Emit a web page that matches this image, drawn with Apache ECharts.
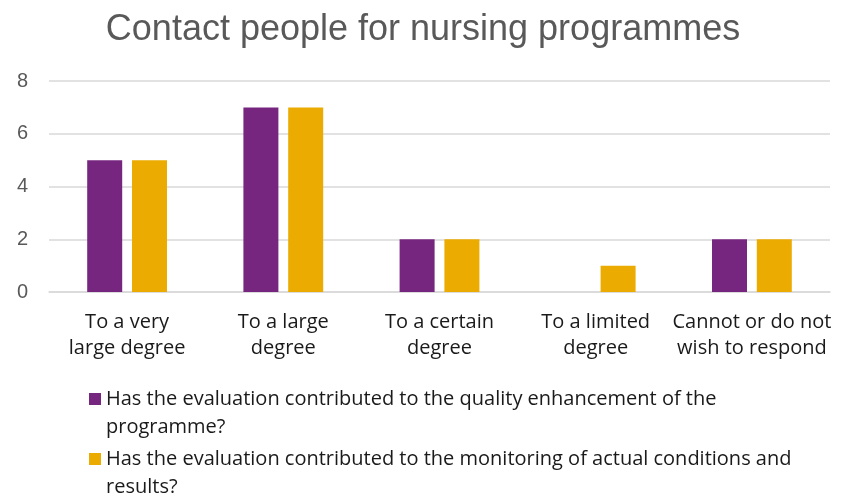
<!DOCTYPE html>
<html>
<head>
<meta charset="utf-8">
<script src="https://cdn.jsdelivr.net/npm/echarts@6/dist/echarts.min.js"></script>
<style>
  html, body { margin: 0; padding: 0; background: #fff; }
  #main { width: 846px; height: 498px; }
</style>
</head>
<body>
<div id="main"></div>
<script>
'use strict';

const title = 'Contact people for nursing programmes';
const categories = ['To a very\nlarge degree', 'To a large\ndegree', 'To a certain\ndegree', 'To a limited\ndegree', 'Cannot or do not\nwish to respond'];
const quality = [5, 7, 2, 0, 2];
const monitoring = [5, 7, 2, 1, 2];
const seriesNames = [
  'Has the evaluation contributed to the quality enhancement of the programme?',
  'Has the evaluation contributed to the monitoring of actual conditions and results?'
];
const yTicks = [0, 2, 4, 6, 8];

const bodyFont = '"Open Sans", Lato, sans-serif';

// square sitting at the top of a taller box, so it lines up with the first text line
const topSquare = 'path://M0,0L12,0L12,12L0,12Z M0,40L0.01,40';

// break each legend entry before its last word, like the original
function wrapLast(name) {
  const i = name.lastIndexOf(' ');
  return name.slice(0, i) + '\n' + name.slice(i + 1);
}

function legendFor(name, top) {
  return {
    data: [{ name: name, icon: topSquare }],
    orient: 'vertical',
    left: 84,
    top: top,
    itemWidth: 12,
    itemHeight: 40,
    formatter: wrapLast,
    textStyle: {
      fontFamily: bodyFont,
      fontSize: 20,
      lineHeight: 28,
      color: '#1a1a1a'
    }
  };
}

const chart = echarts.init(document.getElementById('main'));
chart.setOption({
  animation: false,
  color: ['#76267f', '#ebab00'],
  title: {
    text: title,
    left: 'center',
    top: 7,
    textStyle: {
      fontFamily: '"Liberation Sans", Arial, sans-serif',
      fontSize: 36,
      fontWeight: 'normal',
      color: '#595959'
    }
  },
  grid: { left: 49, right: 16, top: 81, bottom: 206, containLabel: false },
  legend: [legendFor(seriesNames[0], 380), legendFor(seriesNames[1], 440)],
  xAxis: {
    type: 'category',
    data: categories,
    axisLine: { lineStyle: { color: '#d9d9d9', width: 1.5 } },
    axisTick: { show: false },
    axisLabel: {
      fontFamily: bodyFont,
      fontSize: 20,
      lineHeight: 26,
      color: '#1a1a1a',
      margin: 17,
      interval: 0
    }
  },
  yAxis: {
    type: 'value',
    min: yTicks[0],
    max: yTicks[yTicks.length - 1],
    interval: 2,
    axisLine: { show: false },
    axisTick: { show: false },
    splitLine: { lineStyle: { color: '#d9d9d9', width: 1.5 } },
    axisLabel: {
      fontFamily: '"Liberation Sans", Arial, sans-serif',
      fontSize: 20,
      color: '#595959',
      margin: 21
    }
  },
  series: [
    { name: seriesNames[0], type: 'bar', data: quality, barWidth: 35, barGap: '28%' },
    { name: seriesNames[1], type: 'bar', data: monitoring, barWidth: 35, barGap: '28%' }
  ]
});
</script>
</body>
</html>
